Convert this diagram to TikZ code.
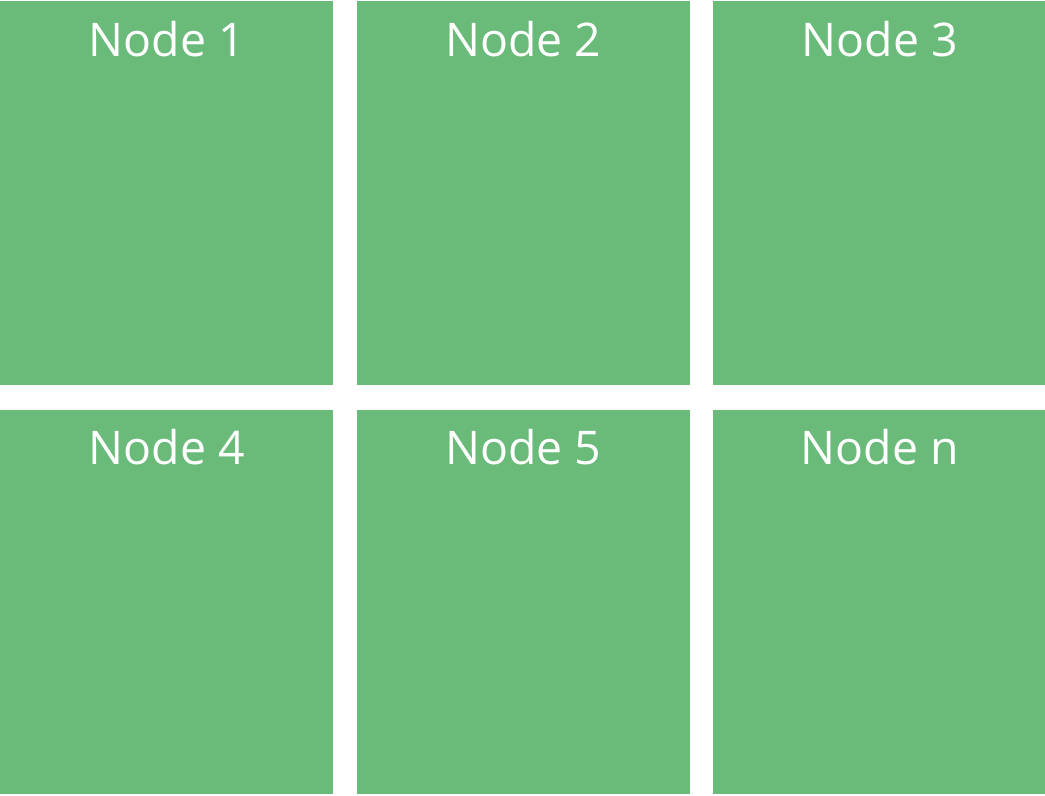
\documentclass[tikz,border=0pt]{standalone}
\usepackage{fontspec}
\setmainfont{Open Sans}
\usepackage{tikz}
\usetikzlibrary{positioning}
\definecolor{NodeGreen}{RGB}{106,187,121}

\begin{document}
\begin{tikzpicture}[
          nodebox/.style={rectangle, fill=NodeGreen, draw=none, inner sep=0pt,
                          minimum width=8.325cm, minimum height=9.6cm},
          nodetext/.style={anchor=base, yshift=-1.375cm, text=white,
                           font=\fontsize{33}{36}\selectfont, inner sep=0pt},
          node distance=0.575cm and 0.575cm
        ]
        \useasboundingbox (0,0) rectangle (26.125,-19.875);

        \node[nodebox, anchor=north west, label={[nodetext]north:Node 1}]
              (n1) at (0,-0.025) {};
        \node[nodebox, right=of n1, label={[nodetext]north:Node 2}] (n2) {};
        \node[nodebox, right=of n2, label={[nodetext]north:Node 3}] (n3) {};

        \node[nodebox, below=0.6cm of n1, label={[nodetext]north:Node 4}] (n4) {};
        \node[nodebox, right=of n4, label={[nodetext]north:Node 5}] (n5) {};
        \node[nodebox, right=of n5, label={[nodetext]north:Node n}] (nn) {};
      \end{tikzpicture}
\end{document}
